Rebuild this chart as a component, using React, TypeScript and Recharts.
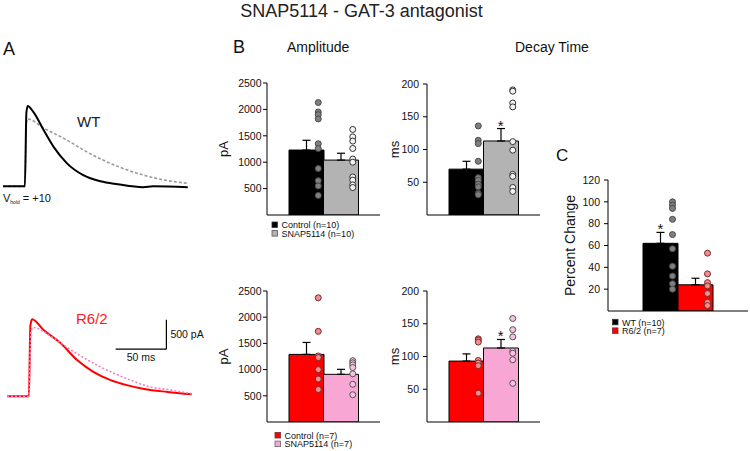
import React from 'react';
import { ComposedChart, Bar, Cell, ErrorBar, Scatter, XAxis, YAxis, LineChart, Line, ReferenceLine } from 'recharts';

const FONT = '"Liberation Sans", Arial, sans-serif';

// group names
const drugGroups = ['Control', 'SNAP5114'];
const genoGroups = ['WT', 'R6/2'];

// B, WT row: amplitude (pA)
const wtAmpMean = [1230, 1040];
const wtAmpSem = [185, 130];
const wtAmpCtrl = [2130, 1950, 1900, 1820, 1350, 1260, 880, 650, 550, 370];
const wtAmpSnap = [1620, 1480, 1400, 1260, 1060, 1000, 720, 660, 570, 520];

// B, WT row: decay time (ms)
const wtDecayMean = [70, 113];
const wtDecaySem = [12, 19];
const wtDecayCtrl = [136, 114, 109, 82, 57, 53, 47, 43, 33, 31];
const wtDecaySnap = [191, 189, 171, 165, 112, 99, 62, 59, 42, 36];
const wtDecaySig = [false, true];

// B, R6/2 row: amplitude (pA)
const r62AmpMean = [1290, 910];
const r62AmpSem = [228, 95];
const r62AmpCtrl = [2370, 1730, 1260, 1230, 1000, 820, 620];
const r62AmpSnap = [1170, 1130, 1090, 1040, 920, 720, 520];

// B, R6/2 row: decay time (ms)
const r62DecayMean = [93, 113];
const r62DecaySem = [11, 13];
const r62DecayCtrl = [127, 125, 122, 94, 90, 86, 44];
const r62DecaySnap = [158, 141, 130, 108, 105, 95, 59];
const r62DecaySig = [false, true];

// C: percent change of decay time
const pctMean = [62, 24];
const pctSem = [10, 6];
const pctWt = [100, 97, 94, 84, 70, 57, 41, 32, 25, 20];
const pctR62 = [53, 34, 26, 23, 16, 8, 5];
const pctSig = [true, false];

// A: example traces, time (ms) vs current (pA)
const wtCtrlT = [-22, -0.5, 1, 2.3, 8, 18, 28, 41, 57, 74, 91, 116, 126, 160];
const wtCtrlI = [0, 0, 1250, 1365, 1260, 955, 665, 390, 190, 85, 35, -15, 0, -15];
const wtSnapT = [-22, -0.5, 1, 2, 18, 41, 61, 81, 107, 133, 160];
const wtSnapI = [0, 0, 1050, 1145, 990, 785, 580, 410, 240, 120, 50];
const r62CtrlT = [-22, -0.5, 1, 2.7, 14, 31, 47, 63, 80, 96, 113, 136, 160];
const r62CtrlI = [0, 0, 1200, 1310, 1125, 900, 615, 415, 275, 190, 125, 75, 35];
const r62SnapT = [-22, -0.5, 1.5, 3.3, 24, 44, 70, 96, 119, 136, 160];
const r62SnapI = [0, 0, 1080, 1170, 985, 755, 500, 300, 160, 115, 45];

const toXY = (t: number[], i: number[]) => t.map((x, k) => ({ t: x, i: i[k] }));

const YW = 60;
const MT = 12;
const MR = 4;
const XH = 1;
const MB = 4;

const yTitle = (text: string, dx: number, size: number) => (props: any) => {
  const vb = props.viewBox || { x: 0, y: 0, width: YW, height: 0 };
  const x = vb.x + vb.width + dx;
  const y = vb.y + vb.height / 2;
  return (
    <text x={x} y={y} transform={`rotate(-90 ${x} ${y})`} textAnchor="middle" dominantBaseline="central"
      fontSize={size} fontFamily={FONT} fill="#111">{text}</text>
  );
};

type PanelProps = {
  left: number; top: number; plotW: number; plotH: number;
  domain: [number, number]; ticks: number[];
  groups: string[]; mean: number[]; sem: number[];
  dots: number[][]; sig: boolean[];
  barColors: string[]; dotFill: string[]; dotStroke: string[];
  yLabel: string; yLabelDx: number; yLabelSize: number; pad: number; tickMargin: number;
};

function BarPanel(p: PanelProps) {
  const data = p.groups.map((name, i) => ({ name, mean: p.mean[i], err: [0, p.sem[i]] }));
  const stars = p.groups
    .map((name, i) => ({ name, v: p.mean[i] + p.sem[i], on: p.sig[i] }))
    .filter((s) => s.on);
  return (
    <div style={{ position: 'absolute', left: p.left - YW, top: p.top - MT }}>
      <ComposedChart width={YW + p.plotW + MR} height={MT + p.plotH + XH + MB} data={data}
        margin={{ top: MT, right: MR, bottom: MB, left: 0 }} barCategoryGap={0} barGap={0}>
        <XAxis dataKey="name" type="category" allowDuplicatedCategory={false} padding={{ left: p.pad, right: p.pad }}
          tick={false} tickLine={false} height={XH} axisLine={{ stroke: '#000' }} />
        <YAxis width={YW} domain={p.domain} ticks={p.ticks} allowDataOverflow interval={0}
          tickSize={4} tickMargin={p.tickMargin} tickLine={{ stroke: '#000' }} axisLine={{ stroke: '#000' }}
          tick={{ fontSize: 10.5, fill: '#111', fontFamily: FONT }}
          label={yTitle(p.yLabel, p.yLabelDx, p.yLabelSize)} />
        <Bar dataKey="mean" stroke="#000" strokeWidth={1} isAnimationActive={false}>
          {data.map((d, i) => <Cell key={d.name} fill={p.barColors[i]} />)}
          <ErrorBar dataKey="err" width={4} stroke="#000" strokeWidth={1.2} direction="y" />
        </Bar>
        {p.dots.map((vals, i) => (
          <Scatter key={p.groups[i]} data={vals.map((v) => ({ name: p.groups[i], v }))} dataKey="v"
            isAnimationActive={false}
            shape={(s: any) => (
              <circle cx={s.cx + 12} cy={s.cy} r={3} fill={p.dotFill[i]} stroke={p.dotStroke[i]} strokeWidth={1} />
            )} />
        ))}
        {stars.length > 0 && (
          <Scatter data={stars} dataKey="v" isAnimationActive={false}
            shape={(s: any) => (
              <text x={s.cx} y={s.cy + 2} textAnchor="middle" fontSize={15} fontFamily={FONT} fill="#111">*</text>
            )} />
        )}
      </ComposedChart>
    </div>
  );
}

function Legend({ x, y, items }: { x: number; y: number; items: { label: string; fill: string; stroke: string }[] }) {
  return (
    <g>
      {items.map((it, k) => (
        <g key={it.label}>
          <rect x={x} y={y + k * 8.6} width={5.5} height={5.5} fill={it.fill} stroke={it.stroke} strokeWidth={0.8} />
          <text x={x + 9.5} y={y + 6.3 + k * 8.6} fontSize={9} fontFamily={FONT} fill="#111">{it.label}</text>
        </g>
      ))}
    </g>
  );
}

export default function App() {
  return (
    <div style={{ position: 'absolute', left: 0, top: 0, width: 750, height: 451, background: '#fff', overflow: 'hidden' }}>
      {/* A: traces */}
      <div style={{ position: 'absolute', left: 0, top: 98 }}>
        <LineChart width={203} height={106} margin={{ top: 0, right: 0, bottom: 0, left: 0 }}>
          <XAxis type="number" dataKey="t" domain={[-25, 175]} allowDataOverflow hide />
          <YAxis type="number" domain={[-300, 1500]} allowDataOverflow hide />
          <Line data={toXY(wtSnapT, wtSnapI)} dataKey="i" type="monotone" stroke="#9a9a9a" strokeWidth={1.6}
            strokeDasharray="3 2" dot={false} isAnimationActive={false} />
          <Line data={toXY(wtCtrlT, wtCtrlI)} dataKey="i" type="monotone" stroke="#000" strokeWidth={2}
            dot={false} isAnimationActive={false} />
        </LineChart>
      </div>
      <div style={{ position: 'absolute', left: 4, top: 308 }}>
        <LineChart width={203} height={106} margin={{ top: 0, right: 0, bottom: 0, left: 0 }}>
          <XAxis type="number" dataKey="t" domain={[-25, 175]} allowDataOverflow hide />
          <YAxis type="number" domain={[-300, 1500]} allowDataOverflow hide />
          <Line data={toXY(r62CtrlT, r62CtrlI)} dataKey="i" type="monotone" stroke="#ff0000" strokeWidth={2}
            dot={false} isAnimationActive={false} />
          <Line data={toXY(r62SnapT, r62SnapI)} dataKey="i" type="monotone" stroke="#f27fc4" strokeWidth={1.6}
            strokeDasharray="2 2" dot={false} isAnimationActive={false} />
          <ReferenceLine segment={[{ x: 85, y: 800 }, { x: 135, y: 800 }]} stroke="#000" strokeWidth={1.2}
            label={{ value: '50 ms', position: 'bottom', offset: 4, fontSize: 10.5, fontFamily: FONT, fill: '#111' }} />
          <ReferenceLine segment={[{ x: 135, y: 800 }, { x: 135, y: 1300 }]} stroke="#000" strokeWidth={1.2}
            label={{ value: '500 pA', position: 'right', offset: 4, fontSize: 10.5, fontFamily: FONT, fill: '#111' }} />
        </LineChart>
      </div>

      {/* B */}
      <BarPanel left={267} top={83} plotW={113} plotH={132} domain={[0, 2500]} ticks={[500, 1000, 1500, 2000, 2500]}
        groups={drugGroups} mean={wtAmpMean} sem={wtAmpSem} dots={[wtAmpCtrl, wtAmpSnap]} sig={[false, false]}
        barColors={['#000000', '#b3b3b3']} dotFill={['#7f7f7f', '#f2f2f2']} dotStroke={['#4a4a4a', '#333333']}
        yLabel="pA" yLabelDx={-44} yLabelSize={13} pad={22} tickMargin={1.5} />
      <BarPanel left={427} top={84} plotW={113} plotH={131} domain={[0, 200]} ticks={[50, 100, 150, 200]}
        groups={drugGroups} mean={wtDecayMean} sem={wtDecaySem} dots={[wtDecayCtrl, wtDecaySnap]} sig={wtDecaySig}
        barColors={['#000000', '#b3b3b3']} dotFill={['#7f7f7f', '#f2f2f2']} dotStroke={['#4a4a4a', '#333333']}
        yLabel="ms" yLabelDx={-33} yLabelSize={13} pad={22} tickMargin={4} />
      <BarPanel left={267} top={291} plotW={113} plotH={131} domain={[0, 2500]} ticks={[500, 1000, 1500, 2000, 2500]}
        groups={drugGroups} mean={r62AmpMean} sem={r62AmpSem} dots={[r62AmpCtrl, r62AmpSnap]} sig={[false, false]}
        barColors={['#fe0000', '#f8a6d3']} dotFill={['#f38c8c', '#f6c4e1']} dotStroke={['#7b2b2b', '#555555']}
        yLabel="pA" yLabelDx={-44} yLabelSize={13} pad={22} tickMargin={1.5} />
      <BarPanel left={427} top={291} plotW={113} plotH={131} domain={[0, 200]} ticks={[50, 100, 150, 200]}
        groups={drugGroups} mean={r62DecayMean} sem={r62DecaySem} dots={[r62DecayCtrl, r62DecaySnap]} sig={r62DecaySig}
        barColors={['#fe0000', '#f8a6d3']} dotFill={['#f38c8c', '#f6c4e1']} dotStroke={['#7b2b2b', '#555555']}
        yLabel="ms" yLabelDx={-33} yLabelSize={13} pad={22} tickMargin={4} />

      {/* C */}
      <BarPanel left={608} top={180} plotW={140} plotH={131} domain={[0, 120]} ticks={[20, 40, 60, 80, 100, 120]}
        groups={genoGroups} mean={pctMean} sem={pctSem} dots={[pctWt, pctR62]} sig={pctSig}
        barColors={['#000000', '#fe0000']} dotFill={['#7f7f7f', '#f38c8c']} dotStroke={['#4a4a4a', '#7b2b2b']}
        yLabel="Percent Change" yLabelDx={-38} yLabelSize={14} pad={35} tickMargin={4} />

      {/* titles, labels, legends */}
      <svg width={750} height={451} style={{ position: 'absolute', left: 0, top: 0, pointerEvents: 'none' }}>
        <text x={361.5} y={17} textAnchor="middle" fontSize={18} fontFamily={FONT} fill="#222">SNAP5114 - GAT-3 antagonist</text>
        <text x={3} y={55} fontSize={18} fontFamily={FONT} fill="#111">A</text>
        <text x={233} y={53} fontSize={18} fontFamily={FONT} fill="#111">B</text>
        <text x={287} y={52} fontSize={14} fontFamily={FONT} fill="#111">Amplitude</text>
        <text x={515} y={52} fontSize={14} fontFamily={FONT} fill="#111">Decay Time</text>
        <text x={556} y={161} fontSize={17} fontFamily={FONT} fill="#111">C</text>
        <text x={77} y={127} fontSize={15} fontFamily={FONT} fill="#222">WT</text>
        <text x={76} y={324} fontSize={15} fontFamily={FONT} fill="#ff1a1a">R6/2</text>
        <text x={3} y={201.5} fontSize={11} fontFamily={FONT} fill="#111">
          V<tspan fontSize={5} dy={2}>hold</tspan><tspan dy={-2}> = +10</tspan>
        </text>
        <Legend x={272} y={222} items={[
          { label: 'Control (n=10)', fill: '#000', stroke: '#333' },
          { label: 'SNAP5114 (n=10)', fill: '#b3b3b3', stroke: '#555' },
        ]} />
        <Legend x={275} y={432.5} items={[
          { label: 'Control (n=7)', fill: '#fe0000', stroke: '#7b2b2b' },
          { label: 'SNAP5114 (n=7)', fill: '#f8a6d3', stroke: '#666' },
        ]} />
        <Legend x={612.5} y={319.3} items={[
          { label: 'WT (n=10)', fill: '#000', stroke: '#333' },
          { label: 'R6/2 (n=7)', fill: '#fe0000', stroke: '#7b2b2b' },
        ]} />
      </svg>
    </div>
  );
}
